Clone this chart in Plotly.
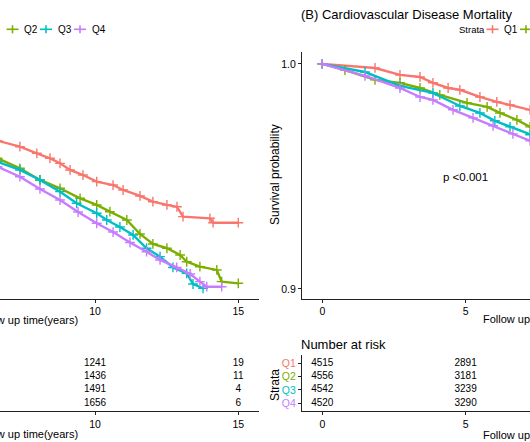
import plotly.graph_objects as go

W, H = 530, 442
FONT = "Arial, Liberation Sans, sans-serif"

strata = ["Q1", "Q2", "Q3", "Q4"]
colors = ["#F8766D", "#7CAE00", "#00BFC4", "#C77CFF"]

# ---- (A) All-cause mortality (visible part of the left panel) ----
a_q1_t = [6.6, 7.38, 7.97, 8.43, 8.78, 9.13, 9.58, 10.06, 10.63, 10.98, 11.57, 12.02, 12.51, 12.86, 13.07, 14.01, 14.12, 15.0]
a_q1_s = [0.9318, 0.9265, 0.9206, 0.9162, 0.9117, 0.9058, 0.9013, 0.8954, 0.8924, 0.8880, 0.8827, 0.8776, 0.8747, 0.8731, 0.8643, 0.8628, 0.8589, 0.8589]
a_q2_t = [6.6, 7.38, 8.08, 8.78, 9.48, 10.06, 10.52, 11.11, 11.57, 12.02, 12.51, 12.97, 13.20, 13.66, 14.25, 14.42, 15.0]
a_q2_s = [0.9162, 0.9073, 0.8969, 0.8895, 0.8806, 0.8747, 0.8687, 0.8613, 0.8489, 0.8400, 0.8362, 0.8302, 0.8242, 0.8198, 0.8169, 0.8065, 0.8050]
a_q3_t = [6.6, 7.38, 8.08, 8.78, 9.36, 10.06, 10.41, 10.87, 11.33, 11.80, 12.27, 12.72, 13.20, 13.42, 13.77]
a_q3_s = [0.9131, 0.9058, 0.8969, 0.8865, 0.8762, 0.8673, 0.8613, 0.8551, 0.8480, 0.8362, 0.8287, 0.8191, 0.8139, 0.8044, 0.8006]
a_q4_t = [6.6, 7.38, 8.08, 8.78, 9.41, 10.06, 10.63, 11.22, 11.80, 12.27, 12.85, 13.32, 13.66, 13.90, 14.42]
a_q4_s = [0.9087, 0.8998, 0.8889, 0.8791, 0.8684, 0.8584, 0.8506, 0.8413, 0.8331, 0.8258, 0.8191, 0.8133, 0.8065, 0.8020, 0.8020]

# ---- (B) Cardiovascular disease mortality (visible part) ----
b_q1_t = [0, 1.84, 2.71, 3.41, 3.86, 4.39, 4.80, 5.50, 6.09, 6.55, 7.25, 7.6]
b_q1_s = [1.0, 0.9982, 0.9951, 0.9942, 0.9916, 0.9893, 0.9885, 0.9853, 0.9831, 0.9818, 0.9796, 0.9785]
b_q2_t = [0, 0.79, 1.84, 2.71, 3.41, 4.10, 5.05, 5.75, 6.20, 6.79, 7.25, 7.6]
b_q2_s = [1.0, 0.9973, 0.9929, 0.9916, 0.9893, 0.9862, 0.9827, 0.9809, 0.9782, 0.9751, 0.9720, 0.9705]
b_q3_t = [0, 1.49, 2.71, 3.86, 4.80, 5.50, 6.02, 6.55, 7.25, 7.6]
b_q3_s = [1.0, 0.9964, 0.9902, 0.9871, 0.9813, 0.9782, 0.9747, 0.9720, 0.9685, 0.9670]
b_q4_t = [0, 1.49, 2.71, 3.41, 3.86, 4.56, 5.26, 5.96, 6.65, 7.25, 7.6]
b_q4_s = [1.0, 0.9947, 0.9893, 0.9853, 0.9840, 0.9796, 0.9760, 0.9725, 0.9689, 0.9658, 0.9640]

# ---- Number at risk ----
a_risk_times = [10, 15]
a_risk_t10 = [1241, 1436, 1491, 1656]
a_risk_t15 = [19, 11, 4, 6]
b_risk_times = [0, 5]
b_risk_t0 = [4515, 4556, 4542, 4520]
b_risk_t5 = [2891, 3181, 3239, 3290]

x_ticks = [0, 5, 10, 15]
y_ticks_b = [0.9, 1.0]
y_ticklabels_b = ["0.9", "1.0"]
strata_pos = [4, 3, 2, 1]

def fx(px):
    return px / W

def fy(py):
    return 1 - py / H

fig = go.Figure()

def add_curve(t, s, color, xa, ya):
    fig.add_trace(go.Scatter(
        x=t, y=s, mode="lines+markers", xaxis=xa, yaxis=ya,
        line=dict(color=color, width=2.4, shape="linear"),
        marker=dict(symbol="cross-thin", size=7, line=dict(color=color, width=1.4)),
        showlegend=False, cliponaxis=True))

a_curves = [(a_q1_t, a_q1_s), (a_q2_t, a_q2_s), (a_q3_t, a_q3_s), (a_q4_t, a_q4_s)]
b_curves = [(b_q1_t, b_q1_s), (b_q2_t, b_q2_s), (b_q3_t, b_q3_s), (b_q4_t, b_q4_s)]
for (t, s), c in zip(a_curves, colors):
    add_curve(t, s, c, "x", "y")
for (t, s), c in zip(b_curves, colors):
    add_curve(t, s, c, "x2", "y2")

# risk tables
for tm, vals in zip(a_risk_times, [a_risk_t10, a_risk_t15]):
    fig.add_trace(go.Scatter(x=[tm] * 4, y=strata_pos, text=[str(v) for v in vals],
                             mode="text", xaxis="x3", yaxis="y3",
                             textfont=dict(size=10, color="black", family=FONT),
                             showlegend=False, cliponaxis=False))
for tm, vals in zip(b_risk_times, [b_risk_t0, b_risk_t5]):
    fig.add_trace(go.Scatter(x=[tm] * 4, y=strata_pos, text=[str(v) for v in vals],
                             mode="text", xaxis="x4", yaxis="y4",
                             textfont=dict(size=10, color="black", family=FONT),
                             showlegend=False, cliponaxis=False))

ax_common = dict(showgrid=False, zeroline=False, showline=True, linecolor="#222",
                 linewidth=1.2, ticks="outside", ticklen=3, tickcolor="#222",
                 tickfont=dict(size=10.5, color="black", family=FONT))

a_xrange = [10 - 95 / 28.66, 10 + (259 - 95) / 28.66]
b_xrange = [(302 - 322.3) / 28.66, (530 - 322.3) / 28.66]
main_dom = [fy(298.5), fy(52)]
tab_dom = [fy(411), fy(355)]

fig.update_layout(
    width=W, height=H, margin=dict(l=0, r=0, t=0, b=0),
    paper_bgcolor="white", plot_bgcolor="white",
    font=dict(family=FONT, color="black"),
    xaxis=dict(domain=[0, fx(259)], range=a_xrange, tickvals=x_ticks, anchor="y", **ax_common),
    yaxis=dict(domain=main_dom, range=[0.7915, 1.0107], visible=False, anchor="x"),
    xaxis2=dict(domain=[fx(302), 1], range=b_xrange, tickvals=x_ticks, anchor="y2", **ax_common),
    yaxis2=dict(domain=main_dom, range=[0.8957, 1.0053], tickvals=y_ticks_b,
                ticktext=y_ticklabels_b, anchor="x2", **ax_common),
    xaxis3=dict(domain=[0, fx(259)], range=a_xrange, tickvals=x_ticks, anchor="y3", **ax_common),
    yaxis3=dict(domain=tab_dom, range=[0.43, 4.6], visible=False, anchor="x3"),
    xaxis4=dict(domain=[fx(302), 1], range=b_xrange, tickvals=x_ticks, anchor="y4", **ax_common),
    yaxis4=dict(domain=tab_dom, range=[0.43, 4.6], tickvals=strata_pos,
                ticktext=[f'<span style="color:{c}">{s}</span>' for s, c in zip(strata, colors)],
                anchor="x4", **ax_common),
)

ann = []
def text(px, py, s, size, xanchor="center", angle=0, color="black"):
    ann.append(dict(x=fx(px), y=fy(py), xref="paper", yref="paper", text=s, showarrow=False,
                    xanchor=xanchor, yanchor="middle", textangle=angle, borderpad=0,
                    font=dict(size=size, color=color, family=FONT)))

text(300, 15, "(B) Cardiovascular Disease Mortality", 13, xanchor="left")
text(275, 175, "Survival probability", 12, angle=-90)
text(79, 320, "Follow up time(years)", 11, xanchor="right")
text(482, 319, "Follow up time(years)", 11, xanchor="left")
text(79, 434, "Follow up time(years)", 11, xanchor="right")
text(482, 435, "Follow up time(years)", 11, xanchor="left")
text(300, 344, "Number at risk", 13, xanchor="left")
text(275, 385, "Strata", 12, angle=-90)
ann.append(dict(x=5.0, y=0.9498, xref="x2", yref="y2", text="p <0.001", showarrow=False,
                xanchor="center", yanchor="middle", font=dict(size=11.5, color="black", family=FONT)))

# legends (manual keys)
shapes = []
def key(cx, cy, color):
    shapes.append(dict(type="line", xref="paper", yref="paper", x0=fx(cx - 6), x1=fx(cx + 6),
                       y0=fy(cy), y1=fy(cy), line=dict(color=color, width=1.6)))
    shapes.append(dict(type="line", xref="paper", yref="paper", x0=fx(cx), x1=fx(cx),
                       y0=fy(cy - 4), y1=fy(cy + 4), line=dict(color=color, width=1.6)))

LY = 29.3
key(12.5, LY, colors[1]); text(22.5, LY, "Q2", 10, xanchor="left")
key(46, LY, colors[2]); text(56.5, LY, "Q3", 10, xanchor="left")
key(80, LY, colors[3]); text(90.5, LY, "Q4", 10, xanchor="left")
text(457.5, LY, "Strata", 9.5, xanchor="left")
key(492.5, LY, colors[0]); text(502.5, LY, "Q1", 10, xanchor="left")
key(526, LY, colors[1])

fig.update_layout(annotations=ann, shapes=shapes)
fig.write_html("out.html", config={"displayModeBar": False},
               post_script="document.body.style.margin='0';document.body.style.overflow='hidden';")
